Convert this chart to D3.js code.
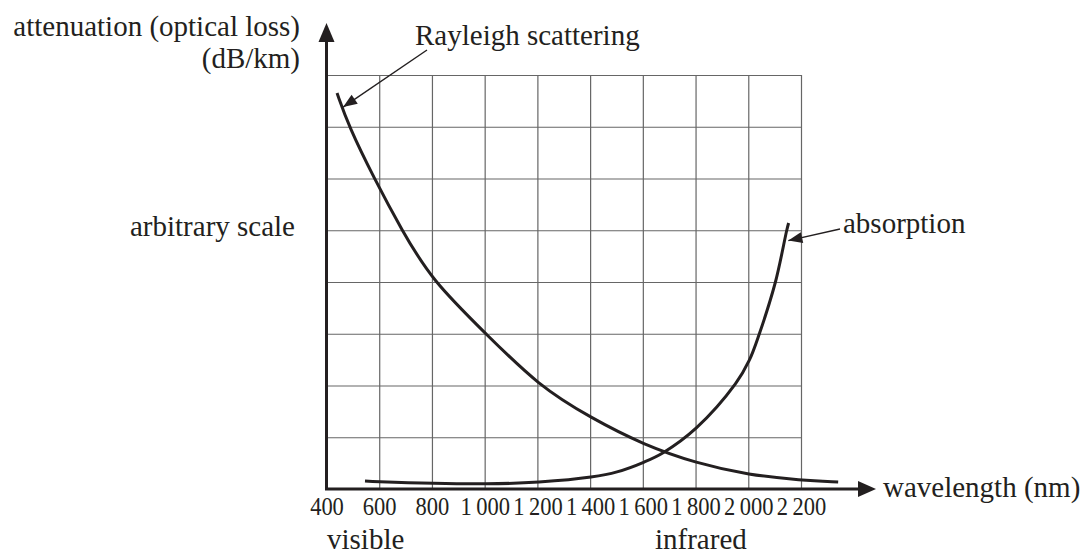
<!DOCTYPE html>
<html>
<head>
<meta charset="utf-8">
<script src="https://cdn.jsdelivr.net/npm/d3@7"></script>
<style>
  body { margin: 0; background: #fff; }
</style>
</head>
<body>
<svg id="chart"></svg>
<script>
// wavelength ticks (nm) and arbitrary attenuation grid
let wavelengthTicks = [400, 600, 800, 1000, 1200, 1400, 1600, 1800, 2000, 2200]
let lossGrid = [1, 2, 3, 4, 5, 6, 7, 8]

// Rayleigh scattering curve
let rayleighNm   = [440, 485, 580, 686, 800, 1005, 1203, 1404, 1605, 1802, 2003, 2200, 2341]
let rayleighLoss = [7.65, 7.0, 6.01, 5.0, 4.03, 3.0, 2.0, 1.37, 0.85, 0.5, 0.27, 0.17, 0.135]

// absorption curve
let absorptionNm   = [546, 603, 1005, 1206, 1403, 1502, 1605, 1677, 1803, 1951, 2004, 2042, 2103, 2146, 2153]
let absorptionLoss = [0.155, 0.14, 0.1, 0.135, 0.23, 0.33, 0.52, 0.7, 1.18, 2.03, 2.49, 3.0, 4.0, 5.0, 5.14]

let width = 1082
let height = 556
let ink = '#231f20'
let serif = '"Liberation Serif", "Times New Roman", Times, "DejaVu Serif", serif'
let svg = d3.select('#chart').attr('width', width).attr('height', height)
    .attr('font-family', serif)

let xScale = d3.scaleLinear().domain([400, 2200]).range([326.5, 801])
let yScale = d3.scaleLinear().domain([0, 8]).range([489, 75])

let fmt = (d) => {
    let s = String(d)
    return s.length > 3 ? s.slice(0, s.length - 3) + '\u2009' + s.slice(-3) : s
}

// grid
let xGrid = svg.append('g')
    .attr('transform', 'translate(0,' + yScale(0) + ')')
    .call(d3.axisBottom(xScale).tickValues(wavelengthTicks.slice(1)).tickSize(-(yScale(0) - yScale(8))).tickFormat(''))
xGrid.select('.domain').remove()
xGrid.selectAll('line').attr('stroke', '#666').attr('stroke-width', 1.2)

let yGrid = svg.append('g')
    .attr('transform', 'translate(' + xScale(400) + ',0)')
    .call(d3.axisLeft(yScale).tickValues(lossGrid).tickSize(-(xScale(2200) - xScale(400))).tickFormat(''))
yGrid.select('.domain').remove()
yGrid.selectAll('line').attr('stroke', '#666').attr('stroke-width', 1.2)

// tick labels
let xAxis = svg.append('g')
    .attr('transform', 'translate(0,' + yScale(0) + ')')
    .call(d3.axisBottom(xScale).tickValues(wavelengthTicks).tickSize(0).tickFormat(fmt))
xAxis.attr('font-family', serif)
xAxis.select('.domain').remove()
xAxis.selectAll('text')
    .attr('y', 26).attr('dy', 0)
    .attr('font-size', 25)
    .attr('transform', 'scale(0.9,1)')
    .style('font-family', serif)
    .attr('fill', ink)

// arrow axes
let x0 = xScale(400), y0 = yScale(0)
svg.append('line').attr('x1', x0).attr('y1', y0).attr('x2', x0).attr('y2', 40)
    .attr('stroke', ink).attr('stroke-width', 3)
svg.append('path').attr('d', `M${x0},23 L${x0 - 8},42 L${x0 + 8},42 Z`).attr('fill', ink)
svg.append('line').attr('x1', x0 - 1.5).attr('y1', y0).attr('x2', 860).attr('y2', y0)
    .attr('stroke', ink).attr('stroke-width', 3)
svg.append('path').attr('d', `M876,${y0} L858,${y0 - 8} L858,${y0 + 8} Z`).attr('fill', ink)

// curves
let line = d3.line()
    .x((d) => xScale(d[0]))
    .y((d) => yScale(d[1]))

svg.append('path')
    .datum(d3.zip(rayleighNm, rayleighLoss))
    .attr('d', line.curve(d3.curveBasis))
    .attr('fill', 'none').attr('stroke', ink).attr('stroke-width', 3)

svg.append('path')
    .datum(d3.zip(absorptionNm, absorptionLoss))
    .attr('d', line.curve(d3.curveCatmullRom.alpha(0.5)))
    .attr('fill', 'none').attr('stroke', ink).attr('stroke-width', 3)

// annotation arrows
let pointer = (x1, y1, x2, y2) => {
    svg.append('line').attr('x1', x1).attr('y1', y1).attr('x2', x2).attr('y2', y2)
        .attr('stroke', ink).attr('stroke-width', 1.4)
    let a = Math.atan2(y2 - y1, x2 - x1)
    let len = 14, half = 5.5
    let bx = x2 - len * Math.cos(a), by = y2 - len * Math.sin(a)
    let px = -Math.sin(a) * half, py = Math.cos(a) * half
    svg.append('path')
        .attr('d', `M${x2},${y2} L${bx + px},${by + py} L${bx - px},${by - py} Z`)
        .attr('fill', ink)
}
pointer(427, 50, xScale(463), yScale(7.38))
pointer(840, 229, xScale(2152), yScale(4.8))

// labels
let label = (txt, x, y, anchor) => {
    svg.append('text').attr('x', x).attr('y', y)
        .attr('text-anchor', anchor || 'start')
        .attr('font-size', 29)
        .style('font-family', serif)
        .attr('fill', ink)
        .text(txt)
}
label('attenuation (optical loss)', 300, 36, 'end')
label('(dB/km)', 300, 68, 'end')
label('arbitrary scale', 295, 236, 'end')
label('Rayleigh scattering', 415, 45)
label('absorption', 843, 233)
label('wavelength (nm)', 883, 497)
label('visible', 327, 549)
label('infrared', 655, 549)
</script>
</body>
</html>
